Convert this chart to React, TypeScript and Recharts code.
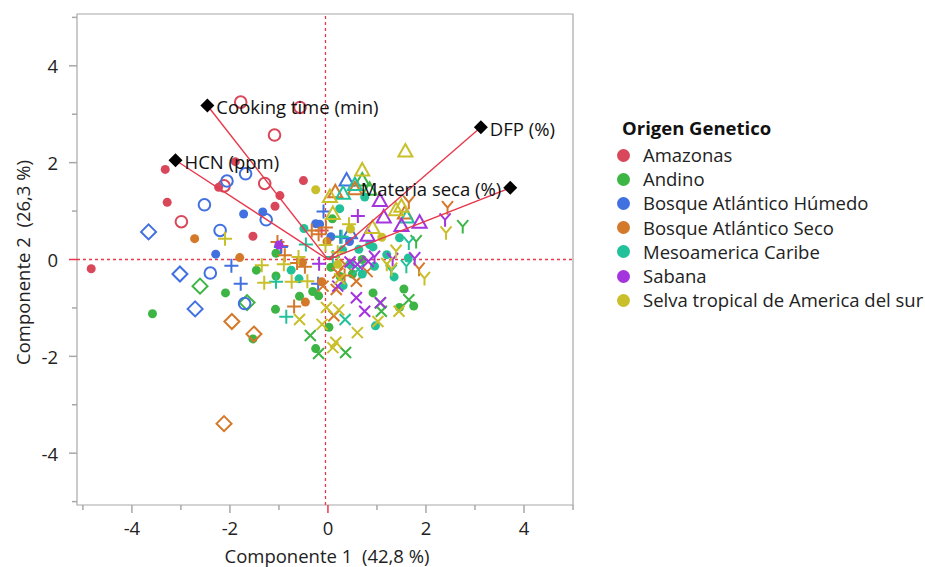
import React from 'react';
import { ScatterChart, Scatter, XAxis, YAxis, ReferenceLine, ReferenceArea } from 'recharts';

// marker kinds: dot, ring, diamond, plus, cross, tri, y
type Pt = [number, number, string];

const AMAZONAS: Pt[] = [
  [-4.83, -0.19, 'dot'], [-3.32, 1.86, 'dot'], [-3.28, 1.18, 'dot'], [-2.23, 1.49, 'dot'], [-1.89, 2.02, 'dot'],
  [-0.98, 1.32, 'dot'], [-1.08, 1.1, 'dot'], [-0.5, 1.63, 'dot'], [-1.53, 0.48, 'dot'],
  [-1.78, 3.25, 'ring'], [-0.57, 3.14, 'ring'], [-1.09, 2.57, 'ring'], [-1.29, 1.57, 'ring'], [-2.12, 1.52, 'ring'], [-2.99, 0.78, 'ring'],
  [-0.13, 0.6, 'plus'], [-0.95, 0.28, 'plus'],
];

const ANDINO: Pt[] = [
  [-3.58, -1.12, 'dot'], [-2.09, -0.69, 'dot'], [-1.46, -0.22, 'dot'], [-1.06, 0.13, 'dot'], [-1.06, -0.34, 'dot'],
  [-1.07, -1.03, 'dot'], [-1.53, -1.64, 'dot'], [-0.58, -0.76, 'dot'], [-0.31, -0.66, 'dot'], [-0.19, -0.75, 'dot'],
  [-0.25, -1.84, 'dot'], [0.02, -1.4, 'dot'], [0.06, -0.16, 'dot'], [0.09, 0.84, 'dot'], [0.92, -0.69, 'dot'],
  [1.55, -0.61, 'dot'], [1.75, -0.96, 'dot'], [1.46, -0.99, 'dot'], [0.5, -0.3, 'dot'], [0.25, -0.35, 'dot'], [0.7, 0.0, 'dot'],
  [-2.61, -0.55, 'diamond'], [-1.65, -0.89, 'diamond'],
  [-0.36, -1.57, 'cross'], [-0.19, -1.94, 'cross'], [0.36, -1.92, 'cross'], [1.07, -0.9, 'cross'], [1.65, -0.83, 'cross'], [1.09, -1.07, 'cross'],
  [0.7, 1.64, 'tri'], [0.85, 1.45, 'tri'],
  [2.75, 0.68, 'y'], [1.8, 0.37, 'y'],
];

const BOSQUE_HUMEDO: Pt[] = [
  [-2.06, 1.62, 'ring'], [-1.68, 1.77, 'ring'], [-2.52, 1.13, 'ring'], [-2.2, 0.6, 'ring'], [-1.26, 0.82, 'ring'],
  [-2.4, -0.28, 'ring'], [-1.7, -0.91, 'ring'],
  [-1.72, 0.94, 'dot'], [-1.33, 0.98, 'dot'], [-2.29, 0.11, 'dot'], [-0.17, 0.73, 'dot'], [0.06, 0.47, 'dot'],
  [0.44, 0.37, 'dot'], [-0.25, 0.74, 'dot'],
  [-3.66, 0.57, 'diamond'], [-3.02, -0.3, 'diamond'], [-2.71, -1.02, 'diamond'],
  [-1.97, -0.13, 'plus'], [-1.78, -0.5, 'plus'], [-0.09, 0.99, 'plus'], [-0.96, 0.26, 'plus'], [0.25, 0.47, 'plus'], [-0.2, -0.5, 'plus'],
  [0.38, 1.64, 'tri'], [0.45, 0.55, 'tri'],
];

const BOSQUE_SECO: Pt[] = [
  [-2.72, 0.43, 'dot'], [-1.8, 0.04, 'dot'], [-0.46, -0.88, 'dot'], [-0.13, -0.46, 'dot'], [-0.02, 0.37, 'dot'], [-0.52, -0.06, 'dot'],
  [-1.96, -1.28, 'diamond'], [-1.51, -1.54, 'diamond'], [-2.12, -3.39, 'diamond'],
  [-1.03, 0.36, 'plus'], [-0.88, 0.09, 'plus'], [-0.63, -0.07, 'plus'], [-0.47, -0.15, 'plus'], [-0.33, 0.6, 'plus'],
  [-0.19, 0.52, 'plus'], [-0.04, 0.66, 'plus'], [-0.69, -0.97, 'plus'], [0.34, -0.33, 'plus'],
  [0.55, 1.46, 'tri'], [1.57, 0.96, 'tri'], [0.15, 1.4, 'tri'],
  [1.65, 1.18, 'y'], [2.44, 1.07, 'y'], [1.86, -0.2, 'y'],
  [0.2, -0.28, 'cross'], [0.58, -0.45, 'cross'], [0.12, -1.16, 'cross'], [0.17, -0.62, 'cross'], [-0.1, -0.55, 'cross'],
  [0.35, -0.1, 'cross'], [0.8, -0.25, 'cross'],
];

const MESOAMERICA: Pt[] = [
  [-0.49, 0.64, 'dot'], [0.24, 1.05, 'dot'], [0.75, 1.29, 'dot'], [0.63, 0.21, 'dot'], [0.92, 0.26, 'dot'],
  [-0.75, -0.22, 'dot'], [-0.59, -0.4, 'dot'], [0.31, -0.54, 'dot'], [0.97, -1.37, 'dot'], [1.46, 0.45, 'dot'],
  [1.64, 0.03, 'dot'], [1.35, -0.36, 'dot'], [0.85, 0.31, 'dot'], [0.95, -0.14, 'dot'], [0.45, -0.1, 'dot'],
  [0.7, -0.3, 'dot'], [1.2, 0.1, 'dot'], [0.3, 0.2, 'dot'],
  [-1.06, -0.46, 'plus'], [-0.85, -1.18, 'plus'], [-0.45, 0.31, 'plus'], [0.28, 0.47, 'plus'], [0.1, 0.05, 'plus'],
  [0.35, -1.24, 'cross'], [0.62, -0.2, 'cross'],
  [0.31, 1.37, 'tri'], [1.61, 0.88, 'tri'], [0.55, 1.55, 'tri'],
  [1.65, 0.34, 'y'], [1.6, -0.14, 'y'], [1.29, -0.24, 'y'],
];

const SABANA: Pt[] = [
  [1.06, 1.22, 'tri'], [1.14, 0.88, 'tri'], [1.87, 0.77, 'tri'], [0.81, 0.5, 'tri'], [1.5, 0.7, 'tri'],
  [2.39, 0.82, 'y'], [1.32, 0.0, 'y'], [1.77, 0.02, 'y'], [0.95, 0.05, 'y'],
  [0.61, 0.9, 'plus'], [-0.18, -0.09, 'plus'],
  [0.58, -0.79, 'cross'], [0.75, -1.07, 'cross'], [1.07, -0.89, 'cross'], [0.82, -0.04, 'cross'], [0.2, -0.55, 'cross'],
  [0.45, -0.05, 'cross'], [0.6, -0.1, 'cross'],
  [-1.0, 0.3, 'dot'],
];

const SELVA: Pt[] = [
  [1.58, 2.24, 'tri'], [0.7, 1.85, 'tri'], [0.04, 1.3, 'tri'], [1.39, 1.03, 'tri'], [0.91, 0.66, 'tri'], [0.1, 0.95, 'tri'], [1.5, 1.1, 'tri'],
  [2.41, 0.55, 'y'], [1.97, -0.39, 'y'], [1.3, -0.2, 'y'], [1.39, 0.17, 'y'], [1.2, -0.1, 'y'],
  [-2.1, 0.43, 'plus'], [-1.35, -0.12, 'plus'], [-1.3, -0.48, 'plus'], [-0.74, -0.46, 'plus'], [-0.42, -0.45, 'plus'],
  [0.43, 0.73, 'plus'], [-0.05, 0.3, 'plus'], [0.2, 0.15, 'plus'], [-0.9, -0.1, 'plus'], [-0.6, 0.05, 'plus'],
  [-0.03, -0.99, 'cross'], [0.16, -1.71, 'cross'], [0.22, -1.04, 'cross'], [0.6, -1.51, 'cross'], [1.45, -1.07, 'cross'],
  [1.02, -1.28, 'cross'], [-0.12, -1.34, 'cross'], [0.1, -1.82, 'cross'], [-0.58, -1.24, 'cross'], [0.24, -0.4, 'cross'],
  [-0.25, 1.44, 'dot'], [0.46, 0.63, 'dot'], [1.1, 0.46, 'dot'], [0.2, -0.1, 'dot'],
];

const ORIGINS = ['Amazonas', 'Andino', 'Bosque Atlántico Húmedo', 'Bosque Atlántico Seco', 'Mesoamerica Caribe', 'Sabana', 'Selva tropical de America del sur'];
const COLORS = ['#d9475a', '#3db544', '#4170e0', '#d4782a', '#22c19a', '#a334de', '#c9bf2a'];
const POINTS = [AMAZONAS, ANDINO, BOSQUE_HUMEDO, BOSQUE_SECO, MESOAMERICA, SABANA, SELVA];

// loading vectors
const LOAD_NAMES = ['Cooking time (min)', 'HCN (ppm)', 'DFP (%)', 'Materia seca (%)'];
const LOAD_X = [-2.46, -3.11, 3.12, 3.72];
const LOAD_Y = [3.18, 2.05, 2.73, 1.48];
const LOAD_SIDE = ['right', 'right', 'right', 'left'];

const X_TICKS = [-5, -4, -3, -2, -1, 0, 1, 2, 3, 4, 5];
const Y_TICKS = [-5, -4, -3, -2, -1, 0, 1, 2, 3, 4, 5];

const PL = 77, PT = 14, PR = 573, PB = 505;
const RED = '#e8384c';
const GRAY = '#a8a8a8';
const FONT = '"Open Sans", sans-serif';
const FS = 18.5;

const Marker = ({ cx, cy, color, kind }: any) => {
  const sw = 2;
  switch (kind) {
    case 'dot':
      return <circle cx={cx} cy={cy} r={4.5} fill={color} />;
    case 'ring':
      return <circle cx={cx} cy={cy} r={5.8} fill="none" stroke={color} strokeWidth={sw} />;
    case 'diamond':
      return <path d={`M${cx},${cy - 7.5}L${cx + 7.5},${cy}L${cx},${cy + 7.5}L${cx - 7.5},${cy}Z`} fill="none" stroke={color} strokeWidth={sw} />;
    case 'plus':
      return <path d={`M${cx - 7},${cy}H${cx + 7}M${cx},${cy - 7}V${cy + 7}`} stroke={color} strokeWidth={sw} />;
    case 'cross':
      return <path d={`M${cx - 5.5},${cy - 5.5}L${cx + 5.5},${cy + 5.5}M${cx + 5.5},${cy - 5.5}L${cx - 5.5},${cy + 5.5}`} stroke={color} strokeWidth={sw} />;
    case 'tri':
      return <path d={`M${cx},${cy - 7}L${cx + 7},${cy + 5.5}L${cx - 7},${cy + 5.5}Z`} fill="none" stroke={color} strokeWidth={sw} />;
    case 'y':
      return <path d={`M${cx - 5.5},${cy - 6.5}L${cx},${cy}L${cx + 5.5},${cy - 6.5}M${cx},${cy}V${cy + 7}`} fill="none" stroke={color} strokeWidth={sw} />;
    default:
      return <g />;
  }
};

const XTick = ({ x, payload }: any) => {
  const v = payload.value;
  const major = v % 2 === 0;
  return (
    <g>
      <line x1={x} x2={x} y1={PB} y2={PB + (major ? 8 : 5)} stroke={v === 0 ? RED : GRAY} strokeWidth={1.5} />
      {major && (
        <text x={x} y={PB + 22} textAnchor="middle" dominantBaseline="central" fontSize={FS} fontFamily={FONT} fill="#222">
          {v}
        </text>
      )}
    </g>
  );
};

const YTick = ({ y, payload }: any) => {
  const v = payload.value;
  const major = v % 2 === 0;
  return (
    <g>
      <line x1={PL - (major ? 8 : 5)} x2={PL} y1={y} y2={y} stroke={v === 0 ? RED : GRAY} strokeWidth={1.5} />
      {major && (
        <text x={PL - 19} y={y} textAnchor="end" dominantBaseline="central" fontSize={FS} fontFamily={FONT} fill="#222">
          {v}
        </text>
      )}
    </g>
  );
};

const LoadingMark = ({ cx, cy, payload }: any) => {
  const left = payload.side === 'left';
  return (
    <g>
      <path d={`M${cx},${cy - 7}L${cx + 7},${cy}L${cx},${cy + 7}L${cx - 7},${cy}Z`} fill="#000" />
      <text
        x={left ? cx - 9 : cx + 9}
        y={cy + 1}
        textAnchor={left ? 'end' : 'start'}
        dominantBaseline="central"
        fontSize={FS}
        fontFamily={FONT}
        fill="#111"
      >
        {payload.name}
      </text>
    </g>
  );
};

export default function App() {
  const series = ORIGINS.map((name, i) => ({
    name,
    color: COLORS[i],
    data: POINTS[i].map(([x, y, k]) => ({ x, y, k })),
  }));
  const loadings = LOAD_NAMES.map((name, i) => ({ name, x: LOAD_X[i], y: LOAD_Y[i], side: LOAD_SIDE[i] }));

  return (
    <div style={{ position: 'absolute', left: 0, top: 0, width: 925, height: 567, background: '#fff', fontFamily: FONT }}>
      <ScatterChart width={925} height={567} margin={{ top: PT, right: 925 - PR, bottom: 4, left: 0 }}>
        <XAxis
          type="number"
          dataKey="x"
          domain={[-5.12, 5]}
          ticks={X_TICKS}
          allowDataOverflow
          height={58}
          axisLine={false}
          tickLine={false}
          tick={<XTick />}
          label={{
            content: () => (
              <text
                x={(PL + PR) / 2 + 2}
                y={555}
                textAnchor="middle"
                dominantBaseline="central"
                fontSize={FS}
                fontFamily={FONT}
                fill="#222"
                style={{ whiteSpace: 'pre' }}
              >
                Componente 1  (42,8 %)
              </text>
            ),
          }}
        />
        <YAxis
          type="number"
          dataKey="y"
          domain={[-5.07, 5.07]}
          ticks={Y_TICKS}
          allowDataOverflow
          width={PL}
          axisLine={false}
          tickLine={false}
          tick={<YTick />}
          label={{
            content: () => (
              <text
                x={22}
                y={(PT + PB) / 2 + 3}
                transform={`rotate(-90 22 ${(PT + PB) / 2 + 3})`}
                textAnchor="middle"
                dominantBaseline="central"
                fontSize={FS}
                fontFamily={FONT}
                fill="#222"
                style={{ whiteSpace: 'pre' }}
              >
                Componente 2  (26,3 %)
              </text>
            ),
          }}
        />
        <ReferenceArea x1={-5.12} x2={5} y1={-5.07} y2={5.07} fill="#fff" fillOpacity={0} stroke={GRAY} strokeWidth={1.2} />
        <ReferenceLine x={-0.05} stroke={RED} strokeDasharray="3 3" strokeWidth={1.3} />
        <ReferenceLine y={0} stroke={RED} strokeDasharray="3 3" strokeWidth={1.3} />
        {series.map((s) => (
          <Scatter
            key={s.name}
            name={s.name}
            data={s.data}
            isAnimationActive={false}
            shape={(p: any) => <Marker cx={p.cx} cy={p.cy} color={s.color} kind={p.payload.k} />}
          />
        ))}
        {loadings.map((l) => (
          <Scatter
            key={'v-' + l.name}
            data={[{ x: 0, y: 0 }, { x: l.x, y: l.y }]}
            line={{ stroke: RED, strokeWidth: 1.4 }}
            isAnimationActive={false}
            shape={() => <g />}
          />
        ))}
        <Scatter data={loadings} isAnimationActive={false} shape={(p: any) => <LoadingMark {...p} />} />
      </ScatterChart>

      <div style={{ position: 'absolute', left: 622, top: 116, fontSize: FS, fontWeight: 700, color: '#111', whiteSpace: 'nowrap', lineHeight: '24px' }}>
        Origen Genetico
      </div>
      {ORIGINS.map((name, i) => (
        <div
          key={name}
          style={{ position: 'absolute', left: 617, top: 143 + i * 24.2, height: 24, display: 'flex', alignItems: 'center', whiteSpace: 'nowrap' }}
        >
          <span style={{ width: 13, height: 13, borderRadius: '50%', background: COLORS[i], display: 'inline-block' }} />
          <span style={{ marginLeft: 13, fontSize: FS, color: '#222', lineHeight: '24px' }}>{name}</span>
        </div>
      ))}
    </div>
  );
}
